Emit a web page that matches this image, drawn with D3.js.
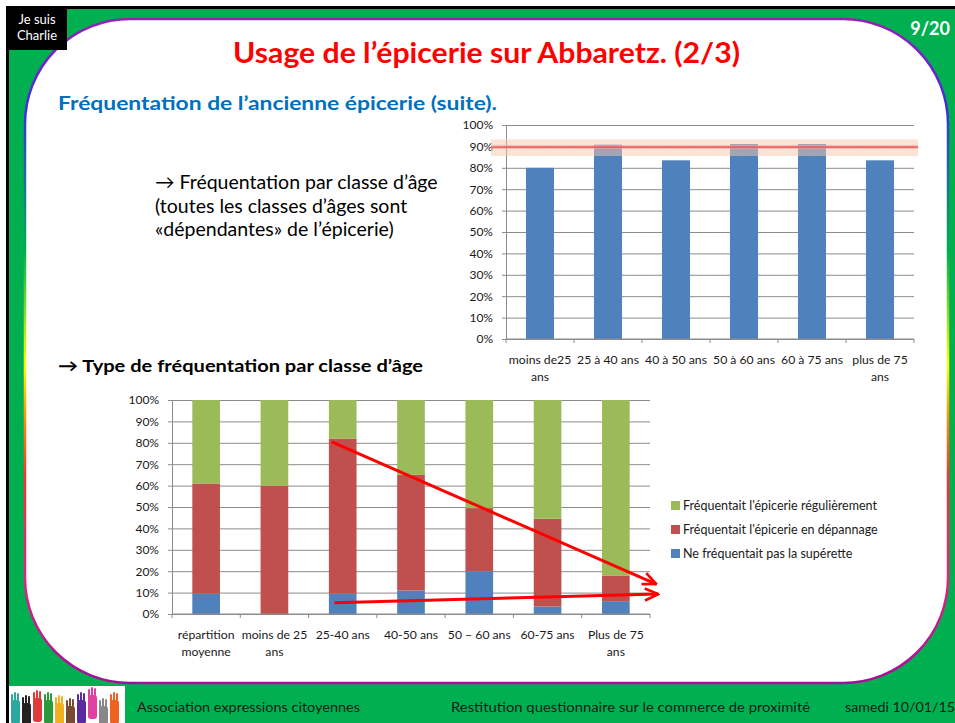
<!DOCTYPE html>
<html>
<head>
<meta charset="utf-8">
<script src="https://cdn.jsdelivr.net/npm/d3@7"></script>
<style>
  body { margin: 0; background: #fff; }
  svg { display: block; font-family: Lato, "Open Sans", sans-serif; }
</style>
</head>
<body>
<svg id="slide" width="955" height="723"></svg>
<script>
// Fréquentation par classe d'âge (graphique du haut)
var ageClasses = ["moins de25 ans", "25 à 40 ans", "40 à 50 ans", "50 à 60 ans", "60 à 75 ans", "plus de 75 ans"];
var ageLabels = [["moins de25", "ans"], ["25 à 40 ans"], ["40 à 50 ans"], ["50 à 60 ans"], ["60 à 75 ans"], ["plus de 75", "ans"]];
var frequentation = [0.80, 0.908, 0.835, 0.911, 0.911, 0.835];
var moyenne = 0.897;
var zoneMoyenne = [0.855, 0.933];

// Type de fréquentation par classe d'âge (graphique du bas)
var typeClasses = ["répartition moyenne", "moins de 25 ans", "25-40 ans", "40-50 ans", "50 – 60 ans", "60-75 ans", "Plus de 75 ans"];
var typeLabels = [["répartition", "moyenne"], ["moins de 25", "ans"], ["25-40 ans"], ["40-50 ans"], ["50 – 60 ans"], ["60-75 ans"], ["Plus de 75", "ans"]];
var pasSuperette = [0.095, 0.0, 0.095, 0.11, 0.20, 0.035, 0.06];
var depannage = [0.515, 0.60, 0.725, 0.54, 0.295, 0.41, 0.12];
var regulierement = [0.39, 0.40, 0.18, 0.35, 0.505, 0.555, 0.82];
var seriesNames = ["Ne fréquentait pas la supérette", "Fréquentait l'épicerie en dépannage", "Fréquentait l'épicerie régulièrement"];
var seriesColours = ["#4f81bd", "#c0504d", "#9bbb59"];

// Flèches de tendance (position en index de catégorie, valeur en %)
var fleches = [
  { from: [2.34, 0.804], to: [7.09, 0.14] },
  { from: [2.38, 0.053], to: [7.12, 0.093] }
];

var pctTicks = [0, 0.1, 0.2, 0.3, 0.4, 0.5, 0.6, 0.7, 0.8, 0.9, 1];
var gridColour = "#8c8c8c";

var svg = d3.select("#slide");
var defs = svg.append("defs");

// Slide frame
svg.append("rect").attr("x", 6).attr("y", 6).attr("width", 949).attr("height", 717).attr("fill", "#000");
svg.append("rect").attr("x", 9).attr("y", 9).attr("width", 946).attr("height", 714).attr("fill", "#00b050");

var grad = defs.append("linearGradient")
  .attr("id", "rainbow")
  .attr("gradientUnits", "userSpaceOnUse")
  .attr("x1", 0).attr("y1", 19).attr("x2", 0).attr("y2", 683);
[[0, "#9a1fb6"], [0.14, "#3a2fe0"], [0.35, "#00b050"], [0.52, "#ffff00"], [0.6, "#ff9000"],
 [0.69, "#ff3030"], [0.85, "#e0208a"], [1, "#a0109a"]].forEach(function(s) {
  grad.append("stop").attr("offset", s[0]).attr("stop-color", s[1]);
});

svg.append("rect")
  .attr("x", 25).attr("y", 19)
  .attr("width", 923).attr("height", 664)
  .attr("rx", 105).attr("ry", 105)
  .attr("fill", "#fff")
  .attr("stroke", "url(#rainbow)")
  .attr("stroke-width", 2.5);

// Je suis Charlie
svg.append("rect").attr("x", 9).attr("y", 9).attr("width", 58).attr("height", 41).attr("fill", "#000");
svg.append("text").attr("x", 37).attr("y", 24).attr("text-anchor", "middle")
  .attr("fill", "#fff").style("font-size", "13px").text("Je suis");
svg.append("text").attr("x", 37).attr("y", 40).attr("text-anchor", "middle")
  .attr("fill", "#fff").style("font-size", "13px").text("Charlie");

svg.append("text").attr("x", 950).attr("y", 35).attr("text-anchor", "end")
  .attr("fill", "#fff").style("font-size", "18px").style("font-weight", "bold").text("9/20");

// Titles
svg.append("text").attr("x", 233).attr("y", 63)
  .attr("fill", "#ff0000").style("font-size", "28px").style("font-weight", "bold")
  .attr("textLength", 507).attr("lengthAdjust", "spacingAndGlyphs")
  .text("Usage de l’épicerie sur Abbaretz. (2/3)");

svg.append("text").attr("x", 58).attr("y", 110)
  .attr("fill", "#0070c0").style("font-size", "19px").style("font-weight", "bold")
  .attr("textLength", 439).attr("lengthAdjust", "spacingAndGlyphs")
  .text("Fréquentation de l’ancienne épicerie (suite).");

var bloc = ["→ Fréquentation par classe d’âge", "(toutes les classes d’âges sont", "«dépendantes» de l’épicerie)"];
svg.selectAll(".bloc")
  .data(bloc)
  .enter().append("text")
  .attr("class", "bloc")
  .attr("x", 155)
  .attr("y", function(d, i) { return 189 + i * 23.5; })
  .attr("fill", "#000")
  .style("font-size", "19.5px")
  .text(function(d) { return d; });

svg.append("text").attr("x", 58).attr("y", 372)
  .attr("fill", "#000").style("font-size", "17px").style("font-weight", "bold")
  .attr("textLength", 365).attr("lengthAdjust", "spacingAndGlyphs")
  .text("→ Type de fréquentation par classe d’âge");

// Shared axis helpers
function drawYAxis(g, y, x0, x1) {
  g.append("g")
    .attr("transform", "translate(" + x0 + ",0)")
    .call(d3.axisLeft(y).tickValues(pctTicks).tickSize(-(x1 - x0)).tickFormat(""))
    .call(function(a) {
      a.select(".domain").remove();
      a.selectAll("line").attr("stroke", gridColour);
    });
  g.append("g")
    .attr("transform", "translate(" + x0 + ",0)")
    .call(d3.axisLeft(y).tickValues(pctTicks).tickSize(4).tickSizeOuter(0).tickPadding(9).tickFormat(d3.format(".0%")))
    .call(function(a) {
      a.select(".domain").attr("stroke", gridColour);
      a.selectAll("line").attr("stroke", gridColour);
      a.selectAll("text").attr("fill", "#1a1a1a").style("font-size", "12px").style("font-family", "Lato, sans-serif");
    });
}

function drawXAxis(g, x, yBase, labels) {
  var r = x.range();
  g.append("line")
    .attr("x1", r[0]).attr("x2", r[1]).attr("y1", yBase).attr("y2", yBase)
    .attr("stroke", gridColour);
  g.selectAll(".bt")
    .data(d3.range(x.domain().length + 1))
    .enter().append("line")
    .attr("x1", function(i) { return r[0] + i * x.step(); })
    .attr("x2", function(i) { return r[0] + i * x.step(); })
    .attr("y1", yBase).attr("y2", yBase + 4)
    .attr("stroke", gridColour);
  var lab = g.selectAll(".xl")
    .data(x.domain())
    .enter().append("text")
    .attr("text-anchor", "middle")
    .attr("fill", "#1a1a1a")
    .style("font-size", "12.2px")
    .attr("transform", function(d) { return "translate(" + (x(d) + x.bandwidth() / 2) + "," + (yBase + 25) + ")"; });
  lab.selectAll("tspan")
    .data(function(d, i) { return labels[i]; })
    .enter().append("tspan")
    .attr("x", 0)
    .attr("y", function(d, j) { return j * 16.5; })
    .text(function(d) { return d; });
}

// Top chart
var topG = svg.append("g");
var xTop = d3.scaleBand().domain(ageClasses).range([506, 914]).paddingInner(0.588).paddingOuter(0.294);
var yTop = d3.scaleLinear().domain([0, 1]).range([339, 125]);

drawYAxis(topG, yTop, 506, 914);

topG.selectAll(".bar")
  .data(frequentation)
  .enter().append("rect")
  .attr("x", function(d, i) { return xTop(ageClasses[i]); })
  .attr("y", function(d) { return yTop(d); })
  .attr("width", xTop.bandwidth())
  .attr("height", function(d) { return yTop(0) - yTop(d); })
  .attr("fill", "#4f81bd");

drawXAxis(topG, xTop, 339, ageLabels);

// highlighted average zone
var dots = defs.append("pattern")
  .attr("id", "dots").attr("patternUnits", "userSpaceOnUse")
  .attr("width", 3).attr("height", 3);
dots.append("rect").attr("width", 3).attr("height", 3).attr("fill", "#f9c9ac");
dots.append("rect").attr("width", 1).attr("height", 1).attr("fill", "#e9b8a0");

topG.append("rect")
  .attr("x", 491).attr("width", 427)
  .attr("y", yTop(zoneMoyenne[1]))
  .attr("height", yTop(zoneMoyenne[0]) - yTop(zoneMoyenne[1]))
  .attr("fill", "url(#dots)")
  .attr("opacity", 0.5);

topG.append("line")
  .attr("x1", 491).attr("x2", 918)
  .attr("y1", yTop(moyenne)).attr("y2", yTop(moyenne))
  .attr("stroke", "#ff9a9a").attr("stroke-width", 4).attr("opacity", 0.5);
topG.append("line")
  .attr("x1", 491).attr("x2", 918)
  .attr("y1", yTop(moyenne)).attr("y2", yTop(moyenne))
  .attr("stroke", "#f04848").attr("stroke-width", 1.2);

// Bottom chart
var botG = svg.append("g");
var xBot = d3.scaleBand().domain(typeClasses).range([172, 650]).paddingInner(0.595).paddingOuter(0.2975);
var yBot = d3.scaleLinear().domain([0, 1]).range([614, 400]);

drawYAxis(botG, yBot, 172, 650);

var table = typeClasses.map(function(c, i) {
  return { cat: c, pas: pasSuperette[i], dep: depannage[i], reg: regulierement[i] };
});
var stack = d3.stack().keys(["pas", "dep", "reg"])(table);

botG.selectAll(".serie")
  .data(stack)
  .enter().append("g")
  .attr("fill", function(d, i) { return seriesColours[i]; })
  .selectAll("rect")
  .data(function(d) { return d; })
  .enter().append("rect")
  .attr("x", function(d) { return xBot(d.data.cat); })
  .attr("y", function(d) { return yBot(d[1]); })
  .attr("width", xBot.bandwidth())
  .attr("height", function(d) { return yBot(d[0]) - yBot(d[1]); });

drawXAxis(botG, xBot, 614, typeLabels);

// trend arrows
defs.append("marker")
  .attr("id", "tete")
  .attr("viewBox", "0 0 12 12")
  .attr("refX", 11).attr("refY", 6)
  .attr("markerWidth", 16).attr("markerHeight", 16)
  .attr("markerUnits", "userSpaceOnUse")
  .attr("orient", "auto")
  .append("path")
  .attr("d", "M1,1.5 L11,6 L1,10.5")
  .attr("fill", "none")
  .attr("stroke", "#ff0000")
  .attr("stroke-width", 2);

var xIdx = d3.scaleLinear().domain([0, typeClasses.length]).range(xBot.range());
botG.selectAll(".fleche")
  .data(fleches)
  .enter().append("line")
  .attr("x1", function(d) { return xIdx(d.from[0]); })
  .attr("y1", function(d) { return yBot(d.from[1]); })
  .attr("x2", function(d) { return xIdx(d.to[0]); })
  .attr("y2", function(d) { return yBot(d.to[1]); })
  .attr("stroke", "#ff0000")
  .attr("stroke-width", 3)
  .attr("marker-end", "url(#tete)");

// Legend
var legendG = svg.selectAll(".legend")
  .data([2, 1, 0])
  .enter().append("g")
  .attr("transform", function(d, i) { return "translate(671," + (501 + i * 24) + ")"; });

legendG.append("rect")
  .attr("width", 9).attr("height", 9)
  .attr("fill", function(d) { return seriesColours[d]; });

legendG.append("text")
  .attr("x", 12).attr("y", 9)
  .attr("fill", "#1a1a1a")
  .style("font-size", "12.5px")
  .text(function(d) { return seriesNames[d]; });

// Footer
svg.append("rect").attr("x", 9).attr("y", 686).attr("width", 116).attr("height", 37).attr("fill", "#fff");
var mains = ["#29a9a0", "#222", "#e03a3a", "#2a9a3a", "#f0b020", "#7a4a30", "#5a2aa0", "#e040a0", "#888", "#f06020"];
var handG = svg.selectAll(".main")
  .data(mains)
  .enter().append("g")
  .attr("transform", function(d, i) { return "translate(" + (15 + i * 11) + "," + (700 + (i % 3) * 3 - (i == 2 || i == 7 ? 8 : 0)) + ")"; });
handG.append("rect").attr("x", -4).attr("y", 0).attr("width", 9).attr("height", 24).attr("rx", 3).attr("fill", function(d) { return d; });
handG.append("rect").attr("x", -4).attr("y", -6).attr("width", 2).attr("height", 8).attr("rx", 1).attr("fill", function(d) { return d; });
handG.append("rect").attr("x", -1).attr("y", -8).attr("width", 2).attr("height", 9).attr("rx", 1).attr("fill", function(d) { return d; });
handG.append("rect").attr("x", 2).attr("y", -7).attr("width", 2).attr("height", 8).attr("rx", 1).attr("fill", function(d) { return d; });

var footer = [[137, "Association expressions citoyennes", 223], [451, "Restitution questionnaire sur le commerce de proximité", 359], [845, "samedi 10/01/15", 110]];
svg.selectAll(".footer")
  .data(footer)
  .enter().append("text")
  .attr("x", function(d) { return d[0]; })
  .attr("y", 712)
  .attr("fill", "#1a1a1a")
  .style("font-size", "14px")
  .attr("textLength", function(d) { return d[2]; })
  .attr("lengthAdjust", "spacingAndGlyphs")
  .text(function(d) { return d[1]; });
</script>
</body>
</html>
